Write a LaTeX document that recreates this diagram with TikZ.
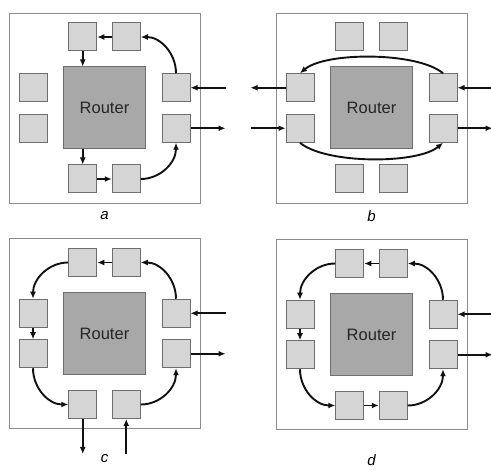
\documentclass[tikz,border=0pt]{standalone}
\usepackage{fontspec}
\setmainfont{Liberation Sans}
\usepackage{tikz}
\usetikzlibrary{arrows.meta,positioning,calc}
\usepackage{xcolor}
\definecolor{portfill}{HTML}{D5D5D5}
\definecolor{routerfill}{HTML}{A8A8A8}
\definecolor{edgegray}{HTML}{6E6E6E}
\definecolor{framegray}{HTML}{8C8C8C}
\definecolor{wire}{HTML}{111111}

% one chip: frame, router and its eight ports
\newcommand{\routerpanel}[2]{%
  \node[frame] (#1F) at (#2) {};
  \node[router] (#1R) at (#2) {Router};
  \node[port,above=15pt of #1R,xshift=-21.75pt] (#1t1) {};
  \node[port,above=15pt of #1R,xshift=21.75pt] (#1t2) {};
  \node[port,below=15pt of #1R,xshift=-21.75pt] (#1b1) {};
  \node[port,below=15pt of #1R,xshift=21.75pt] (#1b2) {};
  \node[port,left=15.5pt of #1R,yshift=20.25pt] (#1l1) {};
  \node[port,left=15.5pt of #1R,yshift=-20.25pt] (#1l2) {};
  \node[port,right=15.5pt of #1R,yshift=20.25pt] (#1r1) {};
  \node[port,right=15.5pt of #1R,yshift=-20.25pt] (#1r2) {};
}

\begin{document}
\begin{tikzpicture}[x=1pt,y=1pt,
    frame/.style={draw=framegray,fill=white,line width=0.9pt,minimum width=191pt,minimum height=190pt,inner sep=0pt},
    router/.style={draw=edgegray,fill=routerfill,line width=1pt,minimum size=82pt,inner sep=0pt,font=\fontsize{16.5}{19}\selectfont,text=black!85},
    port/.style={draw=edgegray,fill=portfill,line width=1pt,minimum size=28pt,inner sep=0pt},
    arr/.style={-{Latex[length=7pt,width=6pt]},line width=1.9pt,draw=wire},
    lbl/.style={font=\fontsize{15}{18}\selectfont\itshape}
]
\useasboundingbox (0,0) rectangle (491,-470);

% a
\routerpanel{a}{104.5,-108}
\node[lbl,below=4pt of aF] (alabel) {a};
\coordinate[right=35pt of ar1] (ain);
\coordinate[right=35pt of ar2] (aout);
\draw[arr] (ain) -- (ar1);
\draw[arr] (ar1.north) to[out=90,in=0] (at2.east);
\draw[arr] (at2) -- (at1);
\draw[arr] (at1) -- (at1 |- aR.north);
\draw[arr] (ab1 |- aR.south) -- (ab1);
\draw[arr] (ab1) -- (ab2);
\draw[arr] (ab2.east) to[out=0,in=-90] (ar2.south);
\draw[arr] (ar2) -- (aout);

% b
\routerpanel{b}{371.5,-108}
\node[lbl,below=4pt of bF] (blabel) {b};
\coordinate[right=35pt of br1] (bin);
\coordinate[right=35pt of br2] (bout);
\coordinate[left=35pt of bl1] (bwest);
\coordinate[left=35pt of bl2] (beast);
\draw[arr] (bin) -- (br1);
\draw[arr] (br1.north) to[out=140,in=40,looseness=0.6] (bl1.north);
\draw[arr] (bl1) -- (bwest);
\draw[arr] (beast) -- (bl2);
\draw[arr] (bl2.south) to[out=-40,in=-140,looseness=0.6] (br2.south);
\draw[arr] (br2) -- (bout);

% c
\routerpanel{c}{104.5,-333.5}
\node[lbl,below=22pt of cF] (clabel) {c};
\coordinate[right=35pt of cr1] (cin);
\coordinate[right=35pt of cr2] (cout);
\coordinate[below=35pt of cb1] (cdown);
\coordinate[below=35pt of cb2] (cup);
\draw[arr] (cin) -- (cr1);
\draw[arr] (cr1.north) to[out=90,in=0] (ct2.east);
\draw[arr] (ct2) -- (ct1);
\draw[arr] (ct1.west) to[out=180,in=90] (cl1.north);
\draw[arr] (cl1) -- (cl2);
\draw[arr] (cl2.south) to[out=-90,in=180] (cb1.west);
\draw[arr] (cb1) -- (cdown);
\draw[arr] (cup) -- (cb2);
\draw[arr] (cb2.east) to[out=0,in=-90] (cr2.south);
\draw[arr] (cr2) -- (cout);

% d
\routerpanel{d}{371.5,-334.5}
\node[lbl,below=21pt of dF] (dlabel) {d};
\coordinate[right=35pt of dr1] (din);
\coordinate[right=35pt of dr2] (dout);
\draw[arr] (din) -- (dr1);
\draw[arr] (dr1.north) to[out=90,in=0] (dt2.east);
\draw[arr] (dt2) -- (dt1);
\draw[arr] (dt1.west) to[out=180,in=90] (dl1.north);
\draw[arr] (dl1) -- (dl2);
\draw[arr] (dl2.south) to[out=-90,in=180] (db1.west);
\draw[arr] (db1) -- (db2);
\draw[arr] (db2.east) to[out=0,in=-90] (dr2.south);
\draw[arr] (dr2) -- (dout);
\end{tikzpicture}
\end{document}
